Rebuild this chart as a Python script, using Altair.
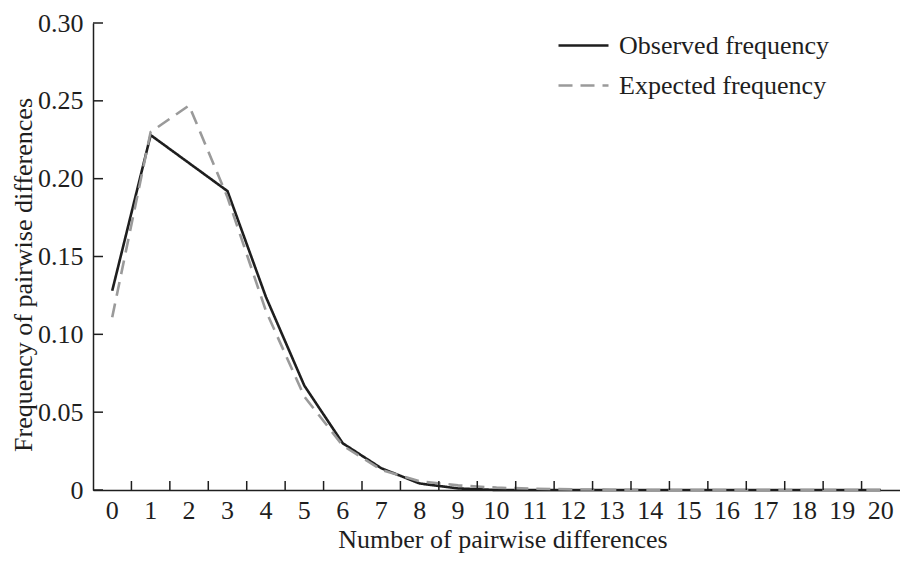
import altair as alt
import pandas as pd

k_values = list(range(21))
observed = [0.128, 0.228, 0.210, 0.192, 0.124, 0.067, 0.030, 0.014, 0.0042, 0.001,
            0, 0, 0, 0, 0, 0, 0, 0, 0, 0, 0]
expected = [0.111, 0.230, 0.247, 0.188, 0.115, 0.060, 0.0285, 0.013, 0.0056, 0.003,
            0.0015, 0.0008, 0.0004, 0.0002, 0, 0, 0, 0, 0, 0, 0]
series_names = ["Observed frequency", "Expected frequency"]
y_ticks = [0, 0.05, 0.10, 0.15, 0.20, 0.25, 0.30]
x_tick_edges = list(range(1, 21))

rows = []
for k, o, e in zip(k_values, observed, expected):
    rows.append({"k": k, "freq": o, "series": series_names[0]})
    rows.append({"k": k, "freq": e, "series": series_names[1]})
df = pd.DataFrame(rows)

W, H = 807, 467
FONT = "Liberation Serif"
FS = 26
INK = "#1e1e1e"

xscale = alt.Scale(type="band", domain=k_values, paddingInner=0, paddingOuter=0)
yscale = alt.Scale(domain=[0, 0.30], nice=False)

lines = alt.Chart(df).mark_line(strokeWidth=2.6).encode(
    x=alt.X("k:O", scale=xscale, bandPosition=0.5, sort=None,
            axis=alt.Axis(title="Number of pairwise differences", labelAngle=0,
                          ticks=False, labelPadding=28, labelBaseline="alphabetic",
                          titleBaseline="alphabetic", titleY=57, titleX=W / 2 + 6,
                          titleAlign="center",
                          domainColor=INK, domainWidth=1.5)),
    y=alt.Y("freq:Q", scale=yscale,
            axis=alt.Axis(title="Frequency of pairwise differences", values=y_ticks,
                          labelExpr="datum.value == 0 ? '0' : format(datum.value, '.2f')",
                          ticks=False, labelPadding=10,
                          titleBaseline="alphabetic", titleX=-62, titleY=H / 2 + 18,
                          titleAngle=-90, titleAlign="center",
                          domainColor=INK, domainWidth=1.5, grid=False)),
    color=alt.Color("series:N", scale=alt.Scale(domain=series_names, range=[INK, "#9a9a9a"]),
                    legend=alt.Legend(title=None, orient="none", legendX=464, legendY=-4,
                                      symbolType="stroke", symbolSize=2500,
                                      symbolStrokeWidth=2.6, labelOffset=9,
                                      rowPadding=-10, padding=0, labelLimit=0,
                                      labelFont=FONT, labelFontSize=FS, labelColor=INK)),
    strokeDash=alt.StrokeDash("series:N", scale=alt.Scale(domain=series_names,
                                                          range=[[1, 0], [14, 8]]),
                              legend=None),
)

ytick_df = pd.DataFrame({"v": y_ticks})
yticks = alt.Chart(ytick_df).mark_rule(color=INK, strokeWidth=1.5).encode(
    y=alt.Y("v:Q", scale=yscale), x=alt.value(0), x2=alt.value(10)
)

xtick_df = pd.DataFrame({"k": x_tick_edges})
xticks = alt.Chart(xtick_df).mark_rule(color=INK, strokeWidth=1.5).encode(
    x=alt.X("k:O", scale=xscale, bandPosition=0), y=alt.value(H), y2=alt.value(H - 9)
)

chart = alt.layer(lines, yticks, xticks).properties(
    width=W, height=H,
    autosize=alt.AutoSizeParams(type="none"),
    padding={"left": 85, "top": 15, "right": 0, "bottom": 63},
).configure_view(stroke=None).configure_axis(
    labelFont=FONT, labelFontSize=FS, labelColor=INK,
    titleFont=FONT, titleFontSize=FS, titleColor=INK, titleFontWeight="normal",
)

chart.save("out.html", embed_options={"renderer": "svg", "actions": False})
